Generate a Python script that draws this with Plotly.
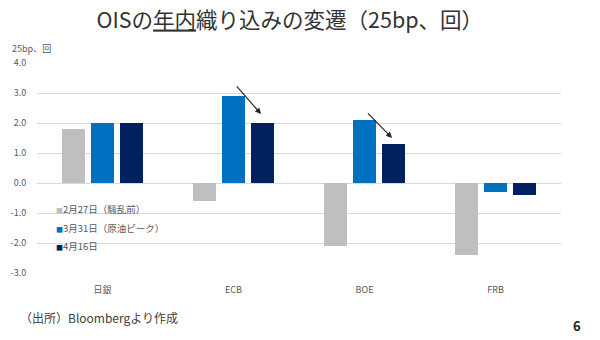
import plotly.graph_objects as go

categories = ["日銀", "ECB", "BOE", "FRB"]
series_names = ["2月27日（騒乱前）", "3月31日（原油ピーク）", "4月16日"]
feb27 = [1.8, -0.6, -2.1, -2.4]
mar31 = [2.0, 2.9, 2.1, -0.3]
apr16 = [2.0, 2.0, 1.3, -0.4]
colors = ["#BFBFBF", "#0070C0", "#002060"]
tick_vals = [4, 3, 2, 1, 0, -1, -2, -3]
tick_text = ["4.0", "3.0", "2.0", "1.0", "0.0", "-1.0", "-2.0", "-3.0"]

FONT = "Noto Sans CJK JP"
W, H = 600, 340
L, R, T, B = 37, 39, 63, 67
PW, PH = W - L - R, H - T - B


def px(xp):
    return (xp - L) / PW


def py(yp):
    return (H - B - yp) / PH


fig = go.Figure()
for name, vals, c in zip(series_names, [feb27, mar31, apr16], colors):
    fig.add_trace(go.Bar(x=categories, y=vals, name=name, marker=dict(color=c, line=dict(width=0))))

fig.update_layout(
    width=W, height=H,
    margin=dict(l=L, r=R, t=T, b=B),
    paper_bgcolor="white", plot_bgcolor="white",
    barmode="group", bargap=0.336, bargroupgap=0.207,
    font=dict(family=FONT, color="#595959", size=8),
    title=dict(text="OISの<u>年内</u>織り込みの変遷（25bp、回）", x=0.483, xanchor="center",
               y=1 - 20 / H, yanchor="middle", font=dict(family=FONT, size=21.5, color="#333333")),
    showlegend=False,
    xaxis=dict(showgrid=False, showline=False, ticks="outside", ticklen=8,
               tickcolor="rgba(0,0,0,0)", tickfont=dict(size=9, color="#595959")),
    yaxis=dict(range=[-3, 4], tickvals=tick_vals, ticktext=tick_text, showgrid=True,
               gridcolor="#D9D9D9", gridwidth=1, zeroline=True, zerolinecolor="#D9D9D9",
               zerolinewidth=1, showline=False, ticks="outside", ticklen=8,
               tickcolor="rgba(0,0,0,0)", tickfont=dict(size=9, color="#595959")),
)

# arrows showing change from 3/31 to 4/16
for idx, (start_y, end_y) in [(1, (3.27, 2.3)), (2, (2.37, 1.5))]:
    fig.add_annotation(x=idx + 0.21, y=end_y, ax=idx + 0.015, ay=start_y, xref="x", yref="y",
                       axref="x", ayref="y", text="", showarrow=True, arrowhead=2,
                       arrowsize=1, arrowwidth=1.2, arrowcolor="#262626")

# legend (inside plot, lower left)
for i, (name, c) in enumerate(zip(series_names, colors)):
    fig.add_annotation(
        text=f"<span style='color:{c};font-size:7px'>■</span>{name}",
        x=px(54), y=py(209 + i * 18.5), xref="paper", yref="paper", showarrow=False,
        xanchor="left", yanchor="middle", font=dict(size=9.5, color="#595959"))

fig.add_annotation(text="25bp、回", x=px(10), y=py(48), xref="paper", yref="paper", showarrow=False,
                   font=dict(size=9, color="#595959"), xanchor="left", yanchor="middle")
fig.add_annotation(text="（出所）Bloombergより作成", x=px(18), y=py(317), xref="paper", yref="paper",
                   showarrow=False, xanchor="left", yanchor="middle", font=dict(size=12, color="#404040"))
fig.add_annotation(text="<b>6</b>", x=px(577), y=py(325), xref="paper", yref="paper",
                   showarrow=False, xanchor="center", yanchor="middle", font=dict(size=13, color="#222222"))

fig.write_html("out.html")
